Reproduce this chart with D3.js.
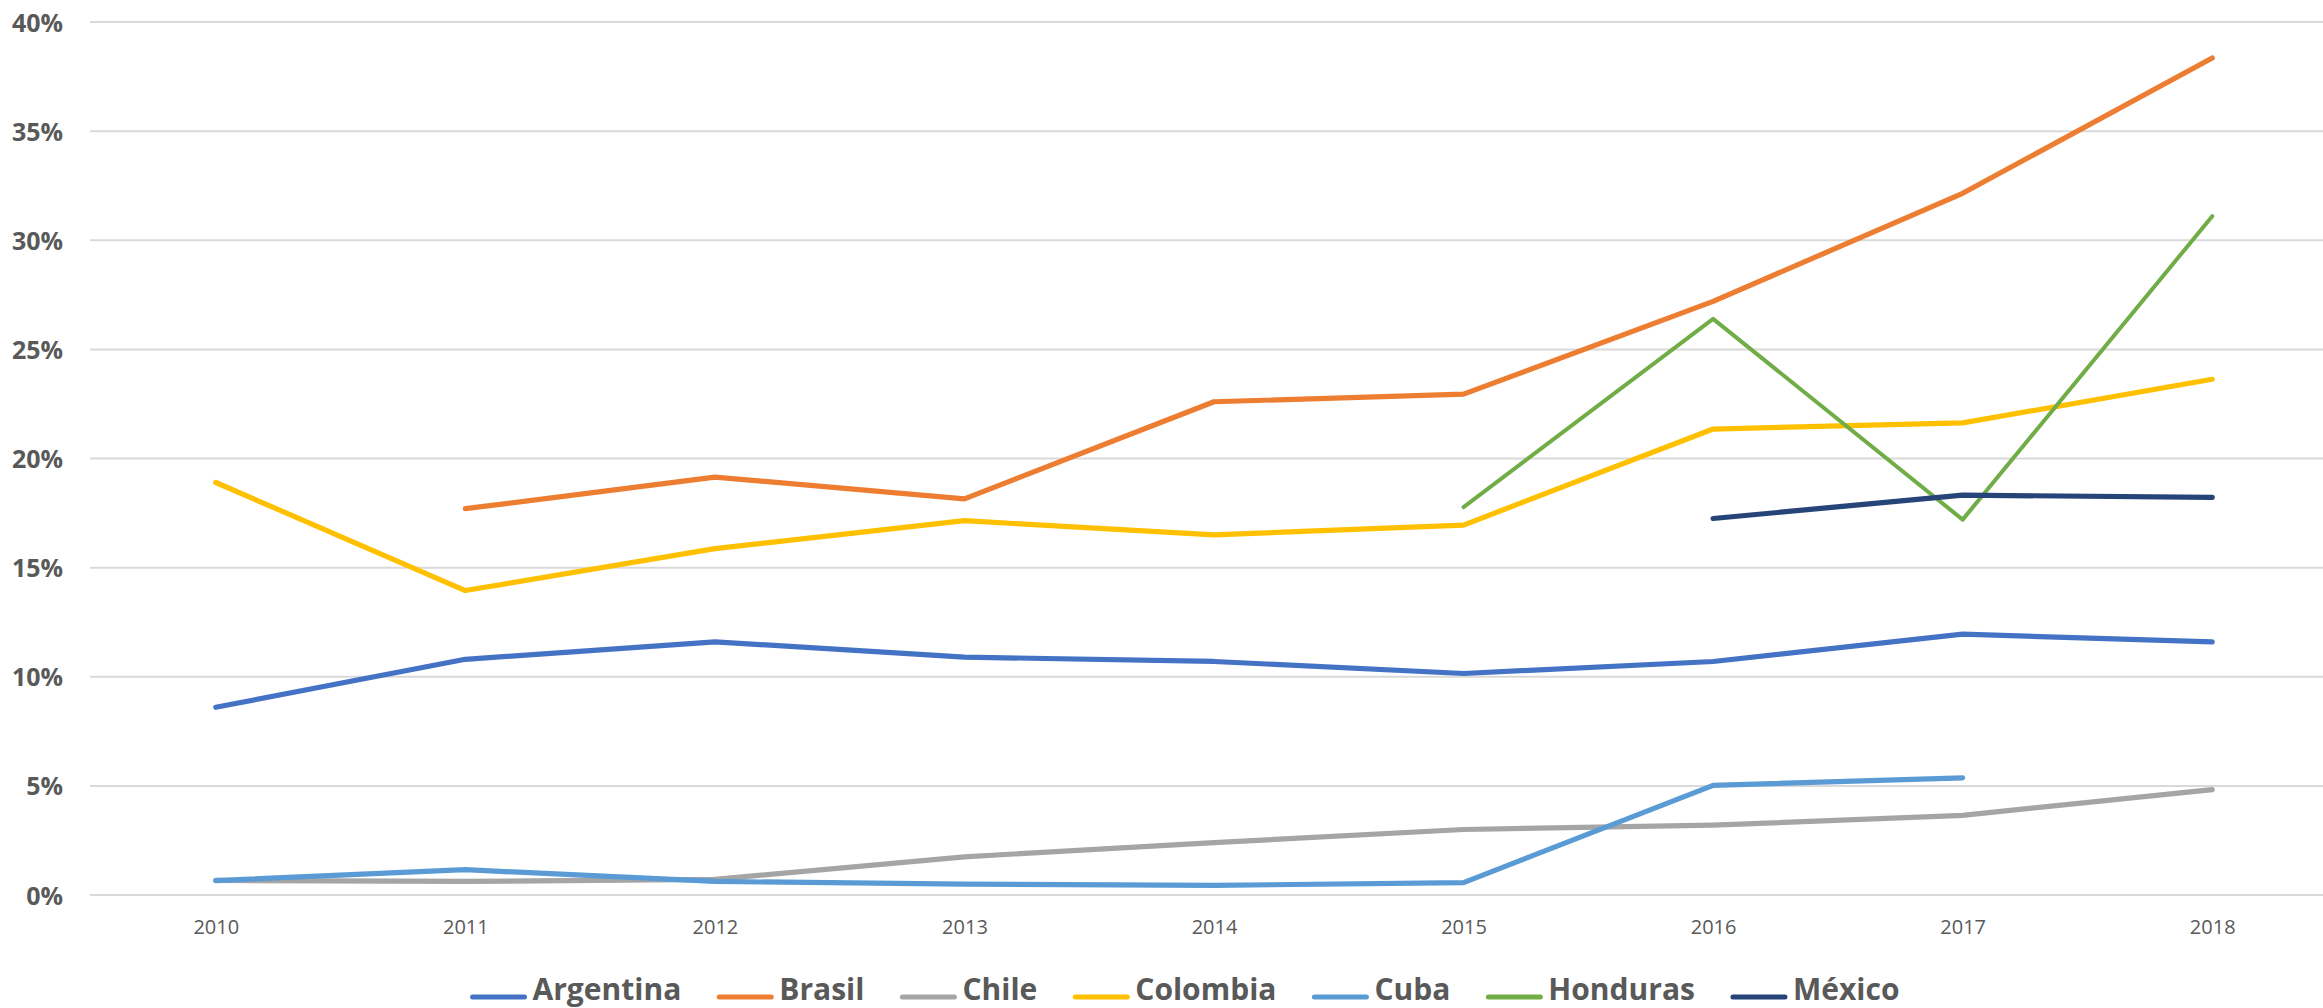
<!DOCTYPE html>
<html>
<head>
<meta charset="utf-8">
<script src="https://cdn.jsdelivr.net/npm/d3@7"></script>
<style>
  html, body { margin: 0; padding: 0; background: #ffffff; }
  svg { display: block; }
</style>
</head>
<body>
<svg id="chart" width="2323" height="1008"></svg>
<script>
// Years on the x axis
const years = ["2010", "2011", "2012", "2013", "2014", "2015", "2016", "2017", "2018"];

// Share per country and year, in percent (null = no data)
const argentina = [8.6, 10.8, 11.6, 10.9, 10.7, 10.15, 10.7, 11.95, 11.6];
const brasil    = [null, 17.7, 19.15, 18.15, 22.6, 22.95, 27.2, 32.15, 38.35];
const chile     = [0.67, 0.62, 0.72, 1.75, 2.4, 3.0, 3.2, 3.65, 4.83];
const colombia  = [18.9, 13.95, 15.87, 17.15, 16.5, 16.95, 21.35, 21.63, 23.63];
const cuba      = [0.66, 1.16, 0.62, 0.5, 0.44, 0.57, 5.02, 5.37, null];
const honduras  = [null, null, null, null, null, 17.77, 26.4, 17.2, 31.1];
const mexico    = [null, null, null, null, null, null, 17.25, 18.32, 18.22];

// Series names as shown in the legend
const seriesNames = ["Argentina", "Brasil", "Chile", "Colombia", "Cuba", "Honduras", "México"];

// Y axis ticks, in percent
const yTicks = [0, 5, 10, 15, 20, 25, 30, 35, 40];

// Series table built from the arrays above
const seriesValues = [argentina, brasil, chile, colombia, cuba, honduras, mexico];
const colors = ["#4472C4", "#ED7D31", "#A5A5A5", "#FFC000", "#5B9BD5", "#70AD47", "#264478"];
const widths = [5.2, 5.2, 5.2, 5.2, 5.2, 4, 5.2];
const series = seriesNames.map((name, i) => ({
  name,
  color: colors[i],
  width: widths[i],
  values: seriesValues[i].map((v, j) => ({ year: years[j], value: v }))
}));

const svg = d3.select("#chart");
const textColor = "#595959";

const x = d3.scalePoint().domain(years).range([91, 2337]).padding(0.5);
const y = d3.scaleLinear().domain([0, 40]).range([895, 22]);

// Horizontal gridlines
svg.append("g")
  .selectAll("line")
  .data(yTicks)
  .join("line")
  .attr("x1", 90)
  .attr("x2", 2323)
  .attr("y1", d => y(d))
  .attr("y2", d => y(d))
  .attr("stroke", "#d9d9d9")
  .attr("stroke-width", 2);

// Y axis labels
const yAxis = d3.axisLeft(y)
  .tickValues(yTicks)
  .tickFormat(d => d + "%")
  .tickSize(0)
  .tickPadding(0);
const yg = svg.append("g").attr("transform", "translate(63,0)").call(yAxis);
yg.select(".domain").remove();
yg.selectAll("text")
  .attr("fill", textColor)
  .attr("font-family", "'Open Sans', sans-serif")
  .attr("font-weight", 700)
  .attr("font-size", 25)
  .attr("dy", "0.36em");

// X axis labels
const xAxis = d3.axisBottom(x).tickSize(0).tickPadding(0);
const xg = svg.append("g").attr("transform", "translate(0,934)").call(xAxis);
xg.select(".domain").remove();
xg.selectAll("text")
  .attr("fill", textColor)
  .attr("font-family", "'Open Sans', sans-serif")
  .attr("font-size", 20)
  .attr("dy", 0);

// Lines
const line = d3.line()
  .defined(d => d.value !== null)
  .x(d => x(d.year))
  .y(d => y(d.value));

svg.append("g")
  .selectAll("path")
  .data(series)
  .join("path")
  .attr("d", d => line(d.values))
  .attr("fill", "none")
  .attr("stroke", d => d.color)
  .attr("stroke-width", d => d.width)
  .attr("stroke-linejoin", "round")
  .attr("stroke-linecap", "round");

// Legend
const legend = svg.append("g");
const items = legend.selectAll("g")
  .data(series)
  .join("g");
items.append("line")
  .attr("x1", 0).attr("x2", 52)
  .attr("y1", 0).attr("y2", 0)
  .attr("stroke", d => d.color)
  .attr("stroke-width", 5)
  .attr("stroke-linecap", "round");
items.append("text")
  .attr("x", 60)
  .attr("y", 3)
  .attr("fill", textColor)
  .attr("font-family", "'Open Sans', sans-serif")
  .attr("font-weight", 700)
  .attr("font-size", 30)
  .text(d => d.name);

let cursor = 0;
items.each(function () {
  const g = d3.select(this);
  g.attr("transform", `translate(${cursor},0)`);
  const w = g.select("text").node().getComputedTextLength();
  cursor += 60 + w + 38;
});
const totalWidth = cursor - 38;
legend.attr("transform", `translate(${1186 - totalWidth / 2},997)`);
</script>
</body>
</html>
